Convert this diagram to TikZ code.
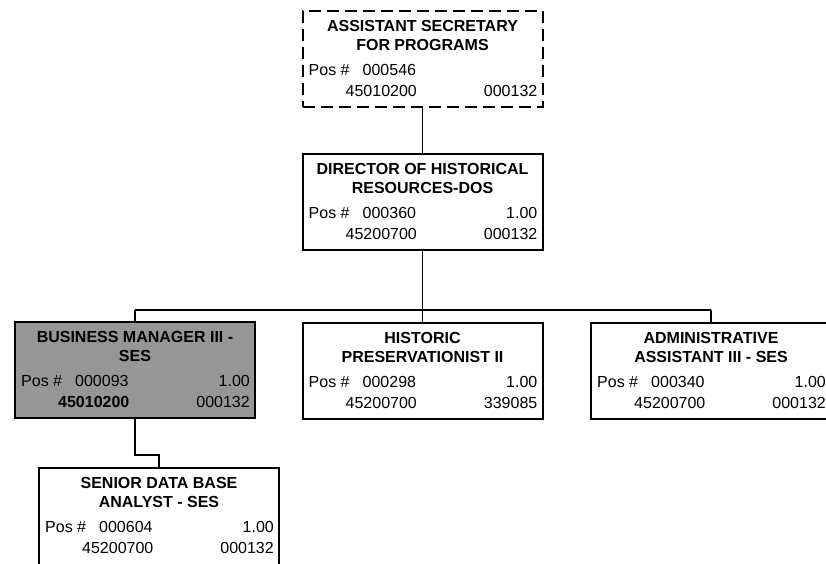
\documentclass[tikz,border=0pt]{standalone}
\usepackage{fontspec}
\setmainfont{Liberation Sans}
\definecolor{boxgray}{HTML}{969696}
\newcommand\boxtext[7]{%
  \node[ttl] (#1-t1) at ([yshift=-21pt]#1.north) {#2};
  \node[ttl] (#1-t2) at ([yshift=-40pt]#1.north) {#3};
  \node[txt, anchor=base west] (#1-pl) at ([xshift=7pt,yshift=-65pt]#1.north west) {Pos \#};
  \node[txt, anchor=base west] (#1-pn) at ([xshift=61pt,yshift=-65pt]#1.north west) {#4};
  \node[txt, anchor=base east] (#1-fte) at ([xshift=-6pt,yshift=-65pt]#1.north east) {#5};
  \node[txt, anchor=base west] (#1-c1) at ([xshift=44pt,yshift=-86pt]#1.north west) {#6};
  \node[txt, anchor=base east] (#1-c2) at ([xshift=-6pt,yshift=-86pt]#1.north east) {#7};
}
\begin{document}
\begin{tikzpicture}[x=1pt,y=-1pt,
  orgbox/.style={draw, line width=2pt, minimum width=240pt, minimum height=96pt,
    inner sep=0pt, anchor=north},
  vacant/.style={orgbox, dash pattern=on 12pt off 6pt},
  shaded/.style={orgbox, fill=boxgray},
  txt/.style={inner sep=0pt, font=\fontsize{16}{18}\selectfont},
  ttl/.style={txt, anchor=base, font=\fontsize{16}{18}\selectfont\bfseries},
  link/.style={line width=1.8pt}]
\useasboundingbox (0,0) rectangle (826,563);

% boxes
\node[vacant] (asp) at (422.5,10) {};
\node[orgbox] (dir) at (422.5,153) {};
\node[shaded] (bm) at (135,321) {};
\node[orgbox] (hp) at (422.5,322) {};
\node[orgbox] (aa) at (711,322) {};
\node[orgbox, minimum height=110pt] (sd) at (159,467) {};

% connectors
\coordinate (busL) at (135,310);
\coordinate (busR) at (711,310);
\draw[link] (asp.south) -- (dir.north);
\draw[link] (dir.south) -- (hp.north);
\draw[link] (busL) -- (busR);
\draw[link] (busL) -- (bm.north);
\draw[link] (busR) -- (aa.north);
\draw[link] (bm.south) -- ++(0,36) -| (sd.north);

% box contents
\boxtext{asp}{ASSISTANT SECRETARY}{FOR PROGRAMS}{000546}{}{45010200}{000132}
\boxtext{dir}{DIRECTOR OF HISTORICAL}{RESOURCES-DOS}{000360}{1.00}{45200700}{000132}
\boxtext{bm}{BUSINESS MANAGER III -}{SES}{000093}{1.00}{\textbf{45010200}}{000132}
\boxtext{hp}{HISTORIC}{PRESERVATIONIST II}{000298}{1.00}{45200700}{339085}
\boxtext{aa}{ADMINISTRATIVE}{ASSISTANT III - SES}{000340}{1.00}{45200700}{000132}
\boxtext{sd}{SENIOR DATA BASE}{ANALYST - SES}{000604}{1.00}{45200700}{000132}
\end{tikzpicture}
\end{document}
